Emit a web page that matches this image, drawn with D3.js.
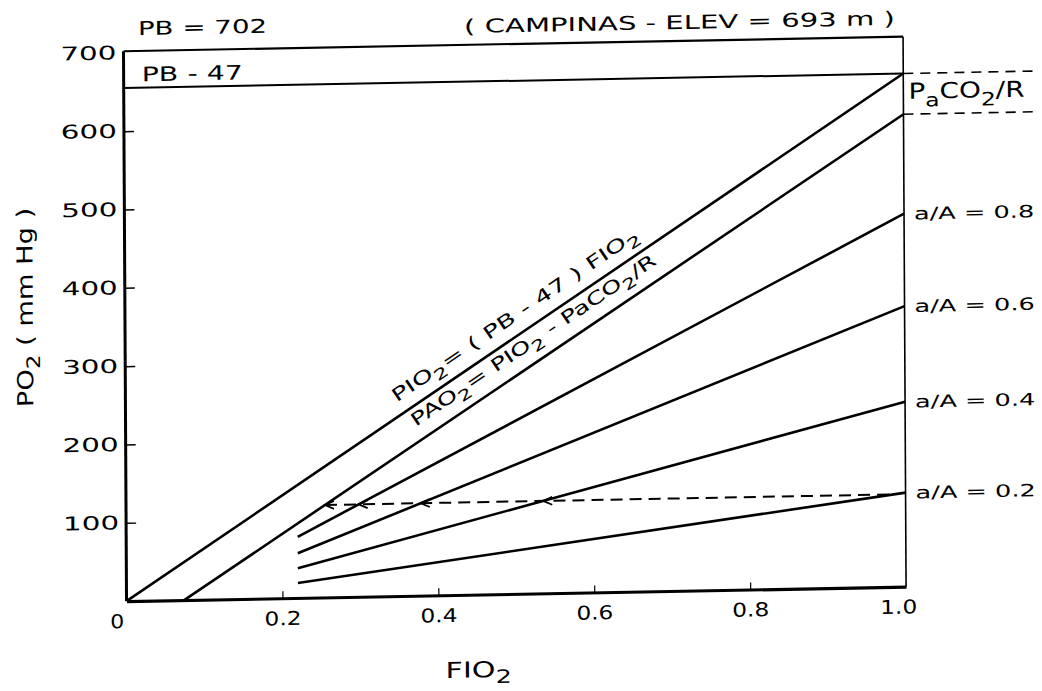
<!DOCTYPE html>
<html>
<head>
<meta charset="utf-8">
<script src="https://cdn.jsdelivr.net/npm/d3@7"></script>
<style>
  html, body { margin: 0; padding: 0; background: #fff; }
  svg { display: block; }
  text { font-family: "DejaVu Sans", sans-serif; fill: #000; }
</style>
</head>
<body>
<svg id="chart" width="1042" height="691"></svg>
<script>
// Oxygen nomogram for Campinas (elevation 693 m, PB = 702 mmHg)

// Axis ticks
const fio2Ticks = [0, 0.2, 0.4, 0.6, 0.8, 1.0];
const fio2TickLabels = ["0", "0.2", "0.4", "0.6", "0.8", "1.0"];
const po2Ticks = [100, 200, 300, 400, 500, 600, 700];
const po2TickLabels = ["100", "200", "300", "400", "500", "600", "700"];

// Reference pressures (mmHg)
const barometric = 702;        // PB
const dryInspired = 655;       // PB - 47

// PIO2 = (PB - 47) FIO2
const pio2Fio2 = [0, 1.0];
const pio2Values = [0, 655];

// PAO2 = PIO2 - PaCO2/R
const pao2Fio2 = [0.074, 1.0];
const pao2Values = [0, 603];

// Arterial / alveolar ratio lines
const ratioFio2 = [0.22, 1.0];
const ratioNames = ["a/A = 0.8", "a/A = 0.6", "a/A = 0.4", "a/A = 0.2"];
const ratio08 = [78, 476];
const ratio06 = [57, 358];
const ratio04 = [38, 236];
const ratio02 = [19, 120];

// Horizontal reading line (PaO2, mmHg)
const targetPaO2 = 118;

// ---------------------------------------------------------------
const W = 778, H = 550;
const svg = d3.select("#chart");
const x = d3.scaleLinear().domain([0, 1]).range([0, W]);
const y = d3.scaleLinear().domain([0, 700]).range([H, 0]);

// the sheet sits slightly askew on the page
const g = svg.append("g")
  .attr("transform", "matrix(1.002,-0.0187,0.0055,0.997,123.5,52.8)");

const line = d3.line().x(d => x(d[0])).y(d => y(d[1]));
const pts = (fs, vs) => fs.map((f, i) => [f, vs[i]]);

// text with subscript parts: plain strings or [string] for subscripts
function rich(sel, parts, shift) {
  let low = false;
  parts.forEach(p => {
    const sub = Array.isArray(p);
    const t = sel.append("tspan").text(sub ? p[0] : p);
    if (sub) {
      t.attr("font-size", "84%");
      if (!low) { t.attr("dy", shift); low = true; }
    } else if (low) {
      t.attr("dy", -shift); low = false;
    }
  });
  return sel;
}

// ---------- frame ----------
// top border (PB)
g.append("path")
  .attr("d", line([[0, barometric], [1, barometric]]))
  .attr("stroke", "#000").attr("stroke-width", 2.2).attr("fill", "none");
// right border
g.append("path")
  .attr("d", line([[1, barometric], [1, 0]]))
  .attr("stroke", "#000").attr("stroke-width", 1.6).attr("fill", "none");
// PB - 47
g.append("path")
  .attr("d", line([[0, dryInspired], [1, dryInspired]]))
  .attr("stroke", "#000").attr("stroke-width", 2).attr("fill", "none");

// ---------- axes ----------
const yAxis = d3.axisLeft(y)
  .tickValues(po2Ticks)
  .tickFormat((d, i) => po2TickLabels[i])
  .tickSizeInner(-10).tickSizeOuter(0).tickPadding(7);
const yg = g.append("g").call(yAxis);
yg.select(".domain").attr("d", `M0,${y(barometric)}V${H}`).attr("stroke-width", 3);
yg.selectAll(".tick line").attr("stroke-width", 1.5)
  .attr("display", d => d === 700 ? "none" : null);
yg.selectAll(".tick text")
  .attr("font-size", 19)
  .attr("textLength", 56).attr("lengthAdjust", "spacingAndGlyphs");

const xAxis = d3.axisBottom(x)
  .tickValues(fio2Ticks)
  .tickFormat((d, i) => fio2TickLabels[i])
  .tickSizeInner(-7).tickSizeOuter(0).tickPadding(10);
const xg = g.append("g").attr("transform", `translate(0,${H})`).call(xAxis);
xg.select(".domain").attr("stroke-width", 3.2);
xg.selectAll(".tick line").attr("stroke-width", 1.2)
  .attr("display", d => (d === 0 || d === 1) ? "none" : null);
xg.selectAll(".tick text")
  .attr("font-size", 19)
  .attr("y", 27).attr("dy", 0)
  .attr("dx", (d, i) => i === 0 ? -10 : (i === fio2Ticks.length - 1 ? -8 : 0))
  .attr("textLength", (d, i) => fio2TickLabels[i].length === 1 ? 14 : 37)
  .attr("lengthAdjust", "spacingAndGlyphs");

// ---------- data lines ----------
const mainLines = [pts(pio2Fio2, pio2Values), pts(pao2Fio2, pao2Values)];
const ratioLines = [ratio08, ratio06, ratio04, ratio02].map(v => pts(ratioFio2, v));

g.selectAll("path.main").data(mainLines).join("path")
  .attr("class", "main")
  .attr("d", line)
  .attr("stroke", "#000").attr("stroke-width", 2.6).attr("fill", "none");

g.selectAll("path.ratio").data(ratioLines).join("path")
  .attr("class", "ratio")
  .attr("d", line)
  .attr("stroke", "#000").attr("stroke-width", 2.6).attr("fill", "none");

// ratio labels at the right-hand ends
g.selectAll("text.ratio").data(ratioLines).join("text")
  .attr("class", "ratio")
  .attr("x", W + 10)
  .attr("y", d => y(d[1][1]) + 6)
  .attr("font-size", 17)
  .attr("textLength", 120).attr("lengthAdjust", "spacingAndGlyphs")
  .text((d, i) => ratioNames[i]);

// ---------- horizontal reading line with arrowheads ----------
const crossAt = (seg, v) => seg[0][0] + (v - seg[0][1]) * (seg[1][0] - seg[0][0]) / (seg[1][1] - seg[0][1]);
const crossings = [mainLines[1], ratioLines[0], ratioLines[1], ratioLines[2]].map(s => crossAt(s, targetPaO2));
const readEnd = crossAt(ratioLines[3], targetPaO2);

g.append("path")
  .attr("d", line([[crossings[0], targetPaO2], [readEnd, targetPaO2]]))
  .attr("stroke", "#000").attr("stroke-width", 2).attr("stroke-dasharray", "12,7").attr("fill", "none");

g.selectAll("path.arrow").data(crossings).join("path")
  .attr("class", "arrow")
  .attr("d", f => {
    const px = x(f), py = y(targetPaO2);
    return `M${px + 9},${py - 4}L${px},${py}L${px + 9},${py + 4}`;
  })
  .attr("stroke", "#000").attr("stroke-width", 1.8).attr("fill", "none");

// ---------- PaCO2/R bracket ----------
g.append("path")
  .attr("d", `M${x(1)},${y(dryInspired)}H${x(1) + 136}`)
  .attr("stroke", "#000").attr("stroke-width", 1.6).attr("stroke-dasharray", "10,7");
g.append("path")
  .attr("d", `M${x(1)},${y(pao2Values[1])}H${x(1) + 130}`)
  .attr("stroke", "#000").attr("stroke-width", 1.6).attr("stroke-dasharray", "10,7");
rich(g.append("text")
  .attr("x", W + 5)
  .attr("y", (y(dryInspired) + y(pao2Values[1])) / 2 + 5)
  .attr("font-size", 22)
  .attr("textLength", 116).attr("lengthAdjust", "spacingAndGlyphs"),
  ["P", ["a"], "CO", ["2"], "/R"], 8);

// ---------- labels along the sloping lines ----------
function alongLine(seg, f, offset, parts, len) {
  const dx = x(seg[1][0]) - x(seg[0][0]);
  const dy = y(seg[1][1]) - y(seg[0][1]);
  const ang = Math.atan2(dy, dx);
  const v = seg[0][1] + (f - seg[0][0]) * (seg[1][1] - seg[0][1]) / (seg[1][0] - seg[0][0]);
  const px = x(f) + offset * Math.sin(ang);
  const py = y(v) - offset * Math.cos(ang);
  const t = g.append("text")
    .attr("transform", `translate(${px},${py}) rotate(${ang * 180 / Math.PI})`)
    .attr("font-size", 18)
    .attr("textLength", len).attr("lengthAdjust", "spacingAndGlyphs");
  rich(t, parts, 6);
}
alongLine(mainLines[0], 0.357, 12.5,
  ["PIO", ["2"], "= ( PB - 47 ) FIO", ["2"]], 292);
alongLine(mainLines[1], 0.382, 14,
  ["PAO", ["2"], "= PIO", ["2"], " - PaCO", ["2"], "/R"], 290);

// ---------- titles ----------
g.append("text")
  .attr("x", 14.5).attr("y", -17.5)
  .attr("font-size", 19)
  .attr("textLength", 129).attr("lengthAdjust", "spacingAndGlyphs")
  .text("PB = 702");

g.append("text")
  .attr("x", 340).attr("y", -13.5)
  .attr("font-size", 19)
  .attr("textLength", 430).attr("lengthAdjust", "spacingAndGlyphs")
  .text("( CAMPINAS - ELEV = 693 m )");

g.append("text")
  .attr("x", 18).attr("y", y(dryInspired) - 6.5)
  .attr("font-size", 20)
  .attr("textLength", 101).attr("lengthAdjust", "spacingAndGlyphs")
  .text("PB - 47");

rich(g.append("text")
  .attr("x", 318).attr("y", 633)
  .attr("font-size", 22)
  .attr("textLength", 66).attr("lengthAdjust", "spacingAndGlyphs"),
  ["FIO", ["2"]], 6);

rich(g.append("text")
  .attr("transform", `translate(-92,253.5) rotate(-90)`)
  .attr("text-anchor", "middle")
  .attr("font-size", 22)
  .attr("textLength", 200).attr("lengthAdjust", "spacingAndGlyphs"),
  ["PO", ["2"], " ( mm Hg )"], 7);
</script>
</body>
</html>
